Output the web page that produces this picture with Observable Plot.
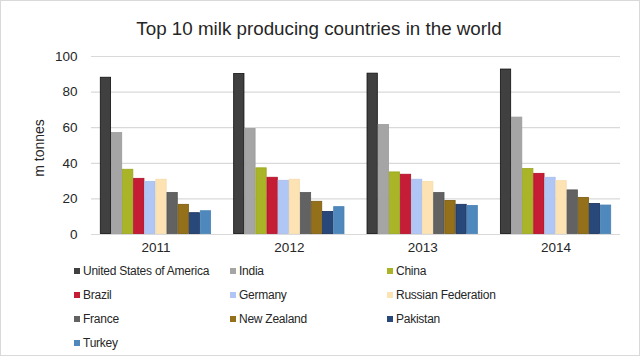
<!DOCTYPE html>
<html>
<head>
<meta charset="utf-8">
<script src="https://cdn.jsdelivr.net/npm/d3@7"></script>
<script src="https://cdn.jsdelivr.net/npm/@observablehq/plot@0.6"></script>
<style>
  html, body { margin: 0; padding: 0; background: #fff; }
  #frame { position: relative; width: 638px; height: 354px; border: 1px solid #d9d9d9; overflow: hidden;
    font-family: "Liberation Sans", Arial, Helvetica, sans-serif; color: #262626; }
  #title { position: absolute; left: 0; top: 17px; width: 636px; text-align: center; font-size: 18.8px; }
  #chart { position: absolute; left: 0; top: 45px; width: 640px; height: 215px; }
  #ylabel { position: absolute; left: 38px; top: 147px; transform: translate(-50%, -50%) rotate(-90deg); font-size: 14px; white-space: nowrap; }
  #legend { position: absolute; left: 73px; top: 263px; width: 560px; font-size: 12px; letter-spacing: -0.25px; }
  .item { position: absolute; white-space: nowrap; display: flex; align-items: center; }
  .sw { width: 6px; height: 6px; margin-right: 3px; }
</style>
</head>
<body>
<div id="frame">
  <div id="title">Top 10 milk producing countries in the world</div>
  <div id="chart"></div>
  <div id="ylabel">m tonnes</div>
  <div id="legend"></div>
</div>
<script>
const years = ["2011", "2012", "2013", "2014"];
const countries = ["United States of America", "India", "China", "Brazil", "Germany",
  "Russian Federation", "France", "New Zealand", "Pakistan", "Turkey"];
const colors = ["#404040", "#a5a5a5", "#a9b526", "#c41d35", "#b0c6f4",
  "#fde2b3", "#626262", "#94701a", "#274879", "#4f88bc"];
const strokes = ["#111111", "#9a9a9a", "#98a61c", "#b01028", "#a8bdea",
  "#f5dcac", "#555555", "#7a5a10", "#1a2f5a", "#4a82b5"];
const yTicks = [0, 20, 40, 60, 80, 100];
// values per year (m tonnes), in country order
const v2011 = [88.3, 57.2, 36.6, 31.5, 29.8, 31.0, 23.6, 16.9, 12.2, 13.3];
const v2012 = [90.4, 59.5, 37.4, 32.1, 30.4, 31.0, 23.5, 18.6, 12.9, 15.6];
const v2013 = [90.6, 61.7, 35.1, 33.8, 31.0, 29.8, 23.5, 19.1, 16.9, 16.3];
const v2014 = [92.9, 65.9, 37.0, 34.3, 32.1, 30.2, 25.0, 20.8, 17.4, 16.5];

const series = [v2011, v2012, v2013, v2014];
const key = (yr, c) => yr + "|" + c;
const data = [];
years.forEach((yr, i) => countries.forEach((c, j) => data.push({year: yr, country: c, value: series[i][j]})));

// band domain: one band per (year, country), with two empty bands between year groups
const xDomain = years.flatMap((yr, i) => [
  ...(i ? ["gap" + i + "a", "gap" + i + "b"] : []),
  ...countries.map(c => key(yr, c))
]);

const chart = Plot.plot({
  width: 640, height: 215, marginLeft: 90, marginRight: 21, marginTop: 10, marginBottom: 27,
  style: {fontFamily: "'Liberation Sans', Arial, sans-serif", fontSize: "13.5px", color: "#262626", background: "transparent"},
  x: {type: "band", domain: xDomain, paddingInner: 0, paddingOuter: 0.8, round: false, axis: null},
  y: {domain: [0, 100], axis: null},
  color: {domain: countries, range: colors},
  marks: [
    Plot.ruleY(yTicks, {stroke: "#d9d9d9", strokeWidth: 1.2}),
    Plot.text(yTicks, {y: d => d, frameAnchor: "left", dx: -14, textAnchor: "end", fill: "#262626", fontSize: 13.5}),
    Plot.barY(data, {x: d => key(d.year, d.country), y: "value", fill: "country",
      stroke: d => strokes[countries.indexOf(d.country)], strokeWidth: 0.8, inset: 0.4}),
    // year label centred between the 5th and 6th bar of each group
    Plot.text(years, {x: d => key(d, countries[5]), dx: -5.5, frameAnchor: "bottom", dy: 17, fill: "#262626", fontSize: 13.5})
  ]
});
document.getElementById("chart").appendChild(chart);

const legend = document.getElementById("legend");
const colX = [0, 156, 313];
countries.forEach((c, i) => {
  const row = Math.floor(i / 3), col = i % 3;
  const el = document.createElement("div");
  el.className = "item";
  el.style.left = colX[col] + "px";
  el.style.top = (row * 24) + "px";
  el.innerHTML = `<span class="sw" style="background:${colors[i]}"></span><span>${c}</span>`;
  legend.appendChild(el);
});
</script>
</body>
</html>
